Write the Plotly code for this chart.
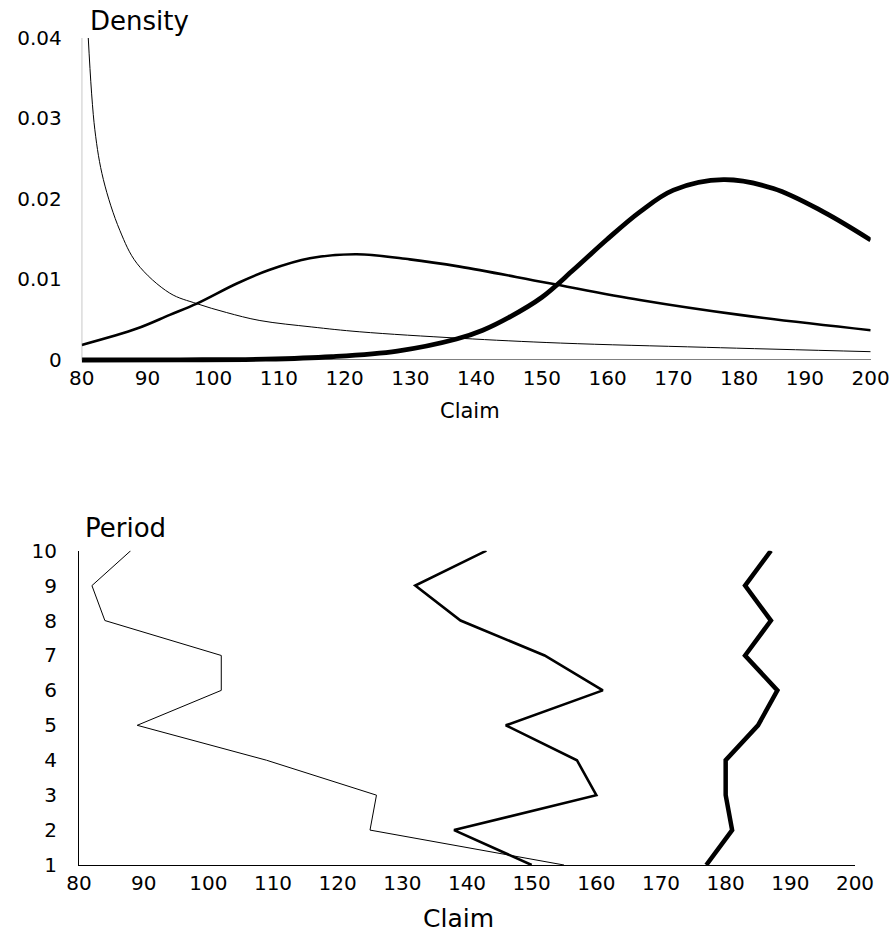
import plotly.graph_objects as go

# ---- Top chart: density curves ----
thin_x = [81.0, 82.0, 83.3, 85.8, 88.4, 93.4, 97.5, 102.0, 107.1, 115.0, 122.3, 137.5, 152.8, 175.0, 200.0]
thin_y = [0.0400, 0.0286, 0.0224, 0.0161, 0.0120, 0.0083, 0.0070, 0.0059, 0.0049, 0.0041, 0.0035, 0.0027, 0.0021, 0.00157, 0.00103]

mid_x = [80.0, 88.4, 93.4, 97.5, 103.6, 108.6, 114.7, 121.8, 129.9, 137.5, 150.7, 164.9, 180.1, 200.0]
mid_y = [0.00186, 0.0039, 0.0056, 0.0070, 0.0095, 0.0112, 0.01263, 0.01313, 0.0125, 0.0116, 0.0096, 0.00745, 0.0056, 0.0037]

thick_x = [80.0, 95.0, 108.0, 118.0, 128.0, 137.0, 141.0, 145.0, 150.0, 154.8, 159.8, 164.9, 170.0, 177.6, 185.2, 192.8, 200.0]
thick_y = [0.0, 0.00002, 0.0001, 0.0004, 0.0011, 0.0026, 0.0037, 0.0053, 0.0078, 0.0112, 0.0149, 0.0184, 0.0211, 0.0224, 0.0213, 0.0184, 0.0149]

density_ticks = [0, 0.01, 0.02, 0.03, 0.04]
density_labels = ["0", "0.01", "0.02", "0.03", "0.04"]
claim_ticks = [80, 90, 100, 110, 120, 130, 140, 150, 160, 170, 180, 190, 200]

# ---- Bottom chart: claims by period ----
periods = [1, 2, 3, 4, 5, 6, 7, 8, 9, 10]
claims_thin = [155, 125, 126, 109, 89, 102, 102, 84, 82, 88]
claims_mid = [150, 138, 160, 157, 146, 161, 152, 139, 132, 143]
claims_thick = [177, 181, 180, 180, 185, 188, 183, 187, 183, 187]

W, H = 892, 934
FONT = "DejaVu Sans"


def px(x):
    return x / W


def py(y):
    return 1 - y / H


fig = go.Figure()

for xs, ys, w in [(thin_x, thin_y, 1), (mid_x, mid_y, 2.6), (thick_x, thick_y, 4.8)]:
    fig.add_trace(go.Scatter(x=xs, y=ys, mode="lines",
                             line=dict(color="black", width=w, shape="spline", smoothing=1.0),
                             xaxis="x", yaxis="y", showlegend=False, hoverinfo="skip"))

for ys, w in [(claims_thin, 1), (claims_mid, 2.6), (claims_thick, 4.5)]:
    fig.add_trace(go.Scatter(x=ys, y=periods, mode="lines",
                             line=dict(color="black", width=w),
                             xaxis="x2", yaxis="y2", showlegend=False, hoverinfo="skip"))

# top y-axis line as shape (x axis drawn via zeroline)
fig.add_shape(type="line", xref="x", yref="y", x0=80, x1=80, y0=0, y1=0.04,
              line=dict(color="#808080", width=1))

fig.update_layout(
    width=W, height=H,
    margin=dict(l=0, r=0, t=0, b=0, autoexpand=False),
    paper_bgcolor="white", plot_bgcolor="white",
    font=dict(family=FONT, color="black"),
    xaxis=dict(domain=[px(81.7), px(870.7)], range=[80, 200], anchor="y", automargin=False,
               tickvals=claim_ticks, showgrid=False, zeroline=False, showline=False,
               ticks="", ticklabeloverflow="allow", tickfont=dict(size=20, family=FONT)),
    yaxis=dict(domain=[py(364), py(38)], range=[-0.0005, 0.04], anchor="x", automargin=False,
               tickvals=density_ticks, ticktext=density_labels,
               showgrid=False, zeroline=True, zerolinecolor="#808080", zerolinewidth=1,
               showline=False, ticks="outside", ticklen=15, tickcolor="rgba(0,0,0,0)",
               ticklabeloverflow="allow", tickfont=dict(size=20, family=FONT)),
    xaxis2=dict(domain=[px(79), px(855)], range=[80, 200], anchor="y2", automargin=False,
                tickvals=claim_ticks, showgrid=False, zeroline=False,
                showline=True, linecolor="black", linewidth=1,
                ticks="", ticklabeloverflow="allow", tickfont=dict(size=20, family=FONT)),
    yaxis2=dict(domain=[py(865), py(550.7)], range=[1, 10], anchor="x2", automargin=False,
                tickvals=periods, showgrid=False, zeroline=False,
                showline=True, linecolor="black", linewidth=1,
                ticks="outside", ticklen=17, tickcolor="rgba(0,0,0,0)",
                ticklabeloverflow="allow", tickfont=dict(size=20, family=FONT)),
)

annos = [
    ("Density", 88, 21, "left", 26),
    ("Claim", 470, 411, "center", 21),
    ("Period", 83, 528, "left", 26),
    ("Claim", 458, 918, "center", 25),
]
for text, x, y, xa, size in annos:
    fig.add_annotation(text=text, x=px(x), y=py(y), xref="paper", yref="paper",
                       xanchor=xa, yanchor="middle", showarrow=False,
                       font=dict(size=size, family=FONT, color="black"))

# remove the default 8px body margin so the figure fills the window exactly
fig.write_html("out.html",
               config={"displayModeBar": False},
               post_script="document.body.style.margin='0px';document.body.style.overflow='hidden';")
